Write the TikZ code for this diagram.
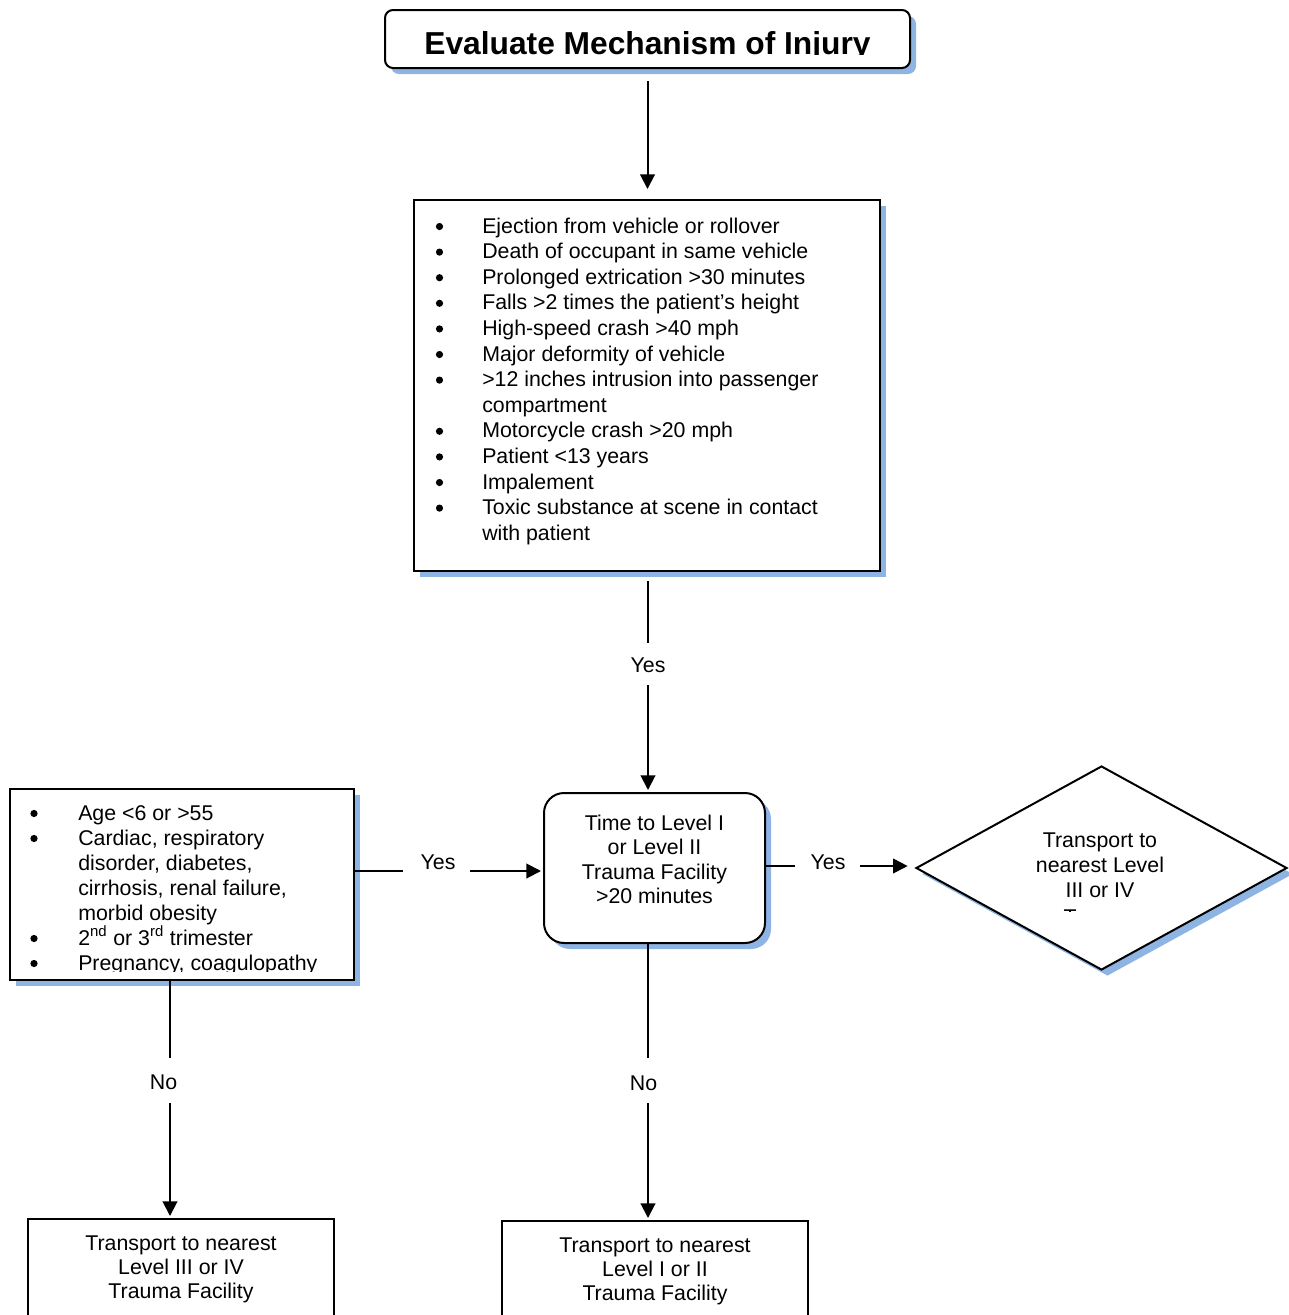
\documentclass[tikz,border=0pt]{standalone}
\usepackage{fontspec}
\setmainfont{Liberation Sans}
\usetikzlibrary{arrows.meta,fit,shapes.geometric,shadows}
\definecolor{shadowblue}{RGB}{141,180,227}
\newcommand{\bodyfont}{\fontsize{16}{19}\selectfont}
\newcommand{\headfont}{\fontsize{23.8}{28}\selectfont\bfseries}
\begin{document}
\begin{tikzpicture}[x=0.75pt,y=-0.75pt,
  box/.style={draw, line width=1.5pt, inner sep=0pt, fill=white},
  shadowed/.style={drop shadow={shadow xshift=4.5pt, shadow yshift=-4.5pt, fill=shadowblue, opacity=1}},
  conn/.style={line width=1.5pt},
  arr/.style={conn, -{Triangle[width=11pt,length=11pt]}},
  txt/.style={font=\bodyfont, inner sep=0pt},
  bul/.style={circle, fill=black, inner sep=0pt, minimum size=5.4pt},
]
\clip (0,0) rectangle (1289,1315);

% Title
\node[box, shadowed, rounded corners=6pt, fit={(385,10)(910,68)}] (title) {};
\begin{scope}
  \clip (385,10) rectangle (910,54.6);
  \node[font=\headfont, anchor=base, inner sep=0pt] (titletext) at (647.5,54.5) {Evaluate Mechanism of Injury};
\end{scope}

% Main list box
\node[box, shadowed, fit={(414,200)(880,571)}] (main) {};
\foreach [count=\k from 0] \t in {Ejection from vehicle or rollover, Death of occupant in same vehicle, Prolonged extrication >30 minutes, Falls >2 times the patient’s height, High-speed crash >40 mph, Major deformity of vehicle, >12 inches intrusion into passenger, compartment, Motorcycle crash >20 mph, Patient <13 years, Impalement, Toxic substance at scene in contact, with patient}
  \node[txt, anchor=base west] (m\k) at (482,{233+25.6*\k}) {\t};
\foreach \k in {0,1,2,3,4,5,6,8,9,10,11}
  \node[bul] (mb\k) at (439.5,{233+25.6*\k-6.5}) {};

% Left list box
\node[box, shadowed, fit={(10,789)(354,980)}] (left) {};
\begin{scope}
  \clip (10,789) rectangle (354,971);
  \foreach [count=\k from 0] \t in {{Age <6 or >55}, {Cardiac, respiratory}, {disorder, diabetes,}, {cirrhosis, renal failure,}, {morbid obesity}, {2\textsuperscript{nd} or 3\textsuperscript{rd} trimester}, {Pregnancy, coagulopathy}}
    \node[txt, anchor=base west] (l\k) at (78,{820+25*\k}) {\t};
  \foreach \k in {0,1,5,6}
    \node[bul] (lb\k) at (34,{820+25*\k-6.5}) {};
\end{scope}

% Time box
\node[box, shadowed, rounded corners=15pt, fit={(544,793)(765,943)}] (time) {};
\foreach [count=\k from 0] \t in {Time to Level I, or Level II, Trauma Facility, >20 minutes}
  \node[txt, anchor=base] (t\k) at (654.5,{830+24.5*\k}) {\t};

% Diamond
\node[box, shadowed, diamond, minimum width=278.25pt, minimum height=153pt] (dia) at (1101.5,868) {};
\begin{scope}
  \clip (916,766) rectangle (1287,911);
  \foreach [count=\k from 0] \t/\yy in {Transport to/847, nearest Level/872, III or IV/897, Trauma/924.5, Facility/949}
    \node[txt, anchor=base] (d\k) at (1100,\yy) {\t};
\end{scope}

% Bottom boxes
\node[box, fit={(28,1219)(334,1345)}] (bl) {};
\foreach [count=\k from 0] \t in {Transport to nearest, Level III or IV, Trauma Facility}
  \node[txt, anchor=base] (bl\k) at (181,{1250+24*\k}) {\t};
\node[box, fit={(502,1221)(808,1345)}] (bc) {};
\foreach [count=\k from 0] \t in {Transport to nearest, Level I or II, Trauma Facility}
  \node[txt, anchor=base] (bc\k) at (655,{1252+24*\k}) {\t};

% Connectors
\draw[arr, shorten <=9pt, shorten >=7.5pt] (title.south) -- (title.south |- main.north);

\coordinate (yC1) at (648,643);
\coordinate (yC2) at (648,685);
\draw[conn, shorten <=6.75pt] (yC1 |- main.south) -- (yC1);
\draw[arr, shorten >=1.5pt] (yC2) -- (yC2 |- time.north);
\node[txt] (yesC) at (648,665.5) {Yes};

\coordinate (yL1) at (403,871);
\coordinate (yL2) at (470,871);
\draw[conn] (left.east |- yL1) -- (yL1);
\draw[arr, shorten >=1.5pt] (yL2) -- (yL2 -| time.west);
\node[txt] (yesL) at (438,862) {Yes};

\coordinate (yR1) at (795,866);
\coordinate (yR2) at (860,866);
\draw[conn] (time.east |- yR1) -- (yR1);
\draw[arr, shorten >=5.5pt] (yR2) -- (yR2 -| dia.west);
\node[txt] (yesR) at (828,862) {Yes};

\coordinate (nL1) at (170,1058);
\coordinate (nL2) at (170,1103);
\draw[conn] (nL1 |- left.south) -- (nL1);
\draw[arr, shorten >=1.5pt] (nL2) -- (nL2 |- bl.north);
\node[txt] (noL) at (163.5,1082.5) {No};

\coordinate (nC1) at (648,1058);
\coordinate (nC2) at (648,1103);
\draw[conn] (nC1 |- time.south) -- (nC1);
\draw[arr, shorten >=1.5pt] (nC2) -- (nC2 |- bc.north);
\node[txt] (noC) at (643.5,1083) {No};
\end{tikzpicture}
\end{document}
